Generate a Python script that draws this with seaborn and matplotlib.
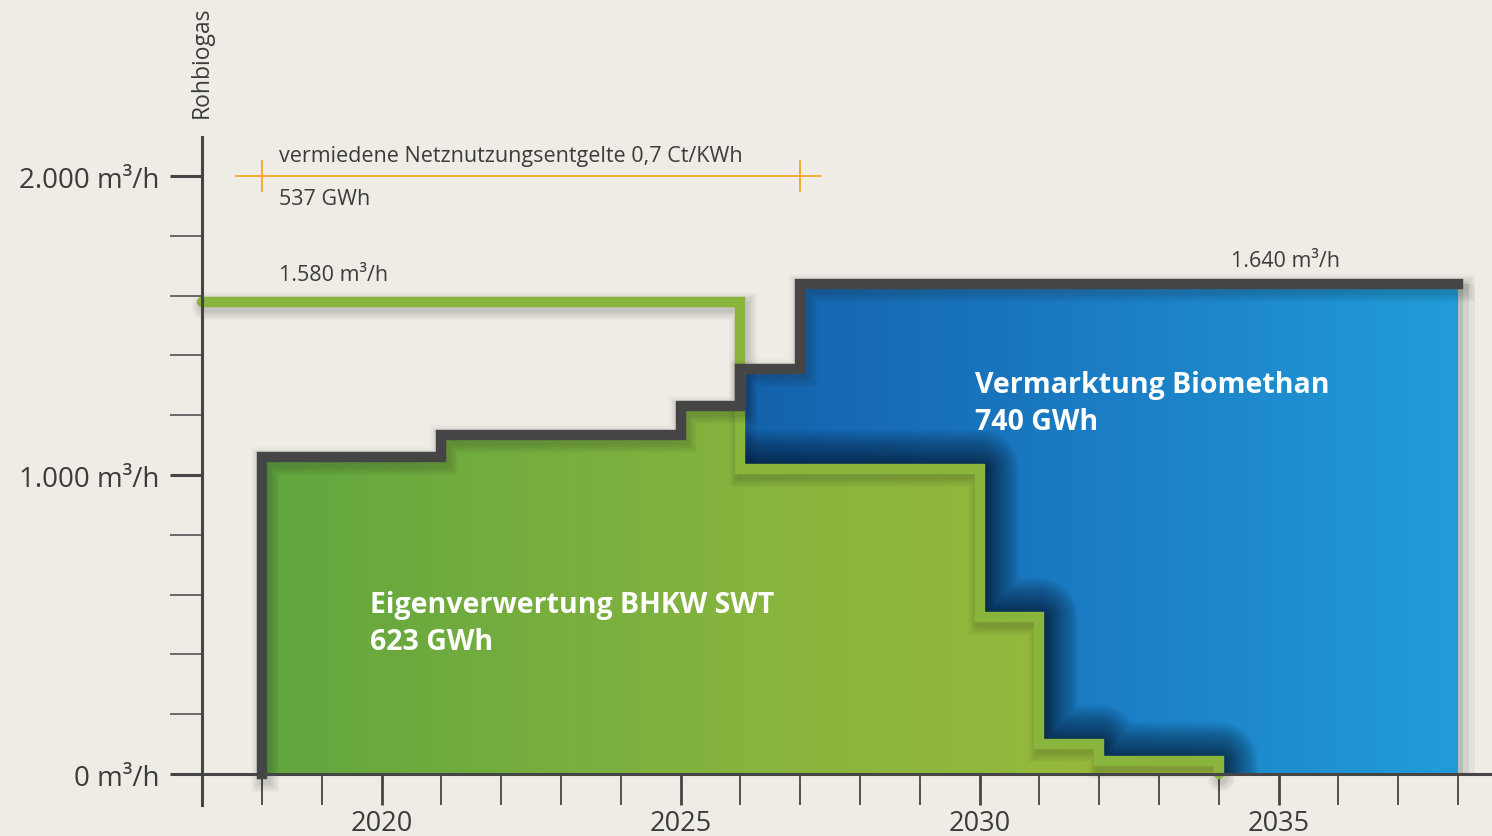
import numpy as np
import pandas as pd
import seaborn as sns
import matplotlib.pyplot as plt
import matplotlib.patheffects as pe
from matplotlib.colors import LinearSegmentedColormap

# data (m3/h Rohbiogas per year)
total_years = list(range(2018, 2039))
total_vals = [1060, 1060, 1060, 1135, 1135, 1135, 1135, 1230, 1355] + [1640] * 12

eigen_years = list(range(2018, 2035))
eigen_vals = [1060, 1060, 1060, 1135, 1135, 1135, 1135, 1230,
              1020, 1020, 1020, 1020, 525, 100, 43, 43, 0]

roh_years = list(range(2017, 2035))
roh_vals = [1580] * 9 + [1020, 1020, 1020, 1020, 525, 100, 43, 43, 0]

biomethan_years = list(range(2026, 2039))
biomethan_vals = total_vals[8:]

year_labels = [2020, 2025, 2030, 2035]
y_major = [0, 1000, 2000]
y_major_labels = ['0 m³/h', '1.000 m³/h', '2.000 m³/h']

bg = '#efece5'
gray = '#454545'
txt = '#3c3c3c'
green_line = '#8ab53d'
orange = '#f4a623'

sns.set_theme(style='white', rc={'axes.facecolor': bg, 'figure.facecolor': bg})
plt.rcParams['font.family'] = ['Open Sans', 'DejaVu Sans']

fig = plt.figure(figsize=(14.92, 8.37), dpi=100)
ax = fig.add_axes([0, 0, 1, 1])


def soft_shadow(color='k', off=(2, -3)):
    fx = [pe.SimpleLineShadow(offset=off, shadow_color=color, alpha=0.025, rho=1, linewidth=lw)
          for lw in np.linspace(20, 8, 8)]
    return fx + [pe.Normal()]


# blue area (Vermarktung Biomethan)
blue_poly = ax.fill_between(biomethan_years, 0, biomethan_vals, step='post', color='#1a78c2',
                            zorder=1, linewidth=0,
                            path_effects=[pe.SimplePatchShadow(offset=(4, 0), alpha=0.12),
                                          pe.SimplePatchShadow(offset=(8, 0), alpha=0.08),
                                          pe.SimplePatchShadow(offset=(12, 0), alpha=0.05),
                                          pe.Normal()])
blue_cmap = LinearSegmentedColormap.from_list('b', ['#1361ab', '#1b7dc4', '#229cd9'])
im = ax.imshow(np.linspace(0, 1, 256)[None, :], cmap=blue_cmap, aspect='auto',
               extent=(2026, 2038, 0, 1640), zorder=1.1, interpolation='bicubic')
im.set_clip_path(blue_poly.get_paths()[0], ax.transData)

# inner dark shadow on the blue along the green border
for lw in np.linspace(56, 10, 16):
    sh, = ax.step(roh_years[9:], roh_vals[9:], where='post', color='#06162c', lw=lw, alpha=0.06,
                  zorder=1.2, solid_joinstyle='round')
    sh.set_clip_path(blue_poly.get_paths()[0], ax.transData)

# green area (Eigenverwertung)
green_poly = ax.fill_between(eigen_years, 0, eigen_vals, step='post', color='#7fb13e',
                             zorder=2, linewidth=0)
green_cmap = LinearSegmentedColormap.from_list('g', ['#61a63f', '#86b43e', '#9cbb3b'])
im2 = ax.imshow(np.linspace(0, 1, 256)[None, :], cmap=green_cmap, aspect='auto',
                extent=(2018, 2034, 0, 1300), zorder=2.1, interpolation='bicubic')
im2.set_clip_path(green_poly.get_paths()[0], ax.transData)

# green Rohbiogas line
roh_df = pd.DataFrame({'year': roh_years, 'value': roh_vals})
sns.lineplot(data=roh_df, x='year', y='value', estimator=None, sort=False, ax=ax,
             drawstyle='steps-post', color=green_line, linewidth=7.5, zorder=3,
             solid_joinstyle='miter', path_effects=soft_shadow())

# dark total line
tot_df = pd.DataFrame({'year': [2018] + total_years, 'value': [0] + total_vals})
sns.lineplot(data=tot_df, x='year', y='value', estimator=None, sort=False, ax=ax,
             drawstyle='steps-post', color=gray, linewidth=7.5, zorder=4,
             solid_joinstyle='miter', solid_capstyle='projecting', path_effects=soft_shadow())

# orange marker line
ax.plot([2017.57, 2027.35], [2000, 2000], color=orange, lw=1.3, zorder=4)
ax.vlines([2018, 2027], 1947, 2053, color=orange, lw=1.3, zorder=4)

# texts
ax.text(2018.29, 2070, 'vermiedene Netznutzungsentgelte 0,7 Ct/KWh', fontsize=15.5,
        color=txt, va='center', ha='left')
ax.text(2018.29, 1926, '537 GWh', fontsize=15.5, color=txt, va='center', ha='left')
ax.text(2018.29, 1672, '1.580 m³/h', fontsize=15.5, color=txt, va='center', ha='left')
ax.text(2034.2, 1716, '1.640 m³/h', fontsize=15.5, color=txt, va='center', ha='left')
ax.text(2019.81, 505, 'Eigenverwertung BHKW SWT\n623 GWh', fontsize=20.5, fontweight='bold',
        color='white', va='center', ha='left', linespacing=1.35, zorder=6)
ax.text(2029.93, 1241, 'Vermarktung Biomethan\n740 GWh', fontsize=20.5, fontweight='bold',
        color='white', va='center', ha='left', linespacing=1.35, zorder=6)
ax.text(2017, 2197, 'Rohbiogas', rotation=90, fontsize=16.5, color=txt, ha='center', va='bottom')

# axes
ax.set_xlim(2013.62, 2038.57)
ax.set_ylim(-207, 2592)
ax.set_xlabel('')
ax.set_ylabel('')
for s in ['top', 'right']:
    ax.spines[s].set_visible(False)
ax.spines['left'].set_position(('data', 2017))
ax.spines['left'].set_bounds(-105, 2130)
ax.spines['bottom'].set_position(('data', 0))
ax.spines['bottom'].set_bounds(2017, 2038.57)
for s in ['left', 'bottom']:
    ax.spines[s].set_color(gray)
    ax.spines[s].set_linewidth(2.2)
    ax.spines[s].set_zorder(5)

ax.set_xticks(year_labels)
ax.set_xticklabels([str(y) for y in year_labels])
ax.set_xticks(range(2018, 2039), minor=True)
ax.set_yticks(y_major)
ax.set_yticklabels(y_major_labels)
ax.set_yticks([v for v in range(200, 2000, 200) if v != 1000], minor=True)
ax.tick_params(axis='x', which='both', direction='out', length=22, color=gray,
               labelsize=19.5, labelcolor=txt, pad=3, bottom=True)
ax.tick_params(axis='x', which='major', width=2)
ax.tick_params(axis='x', which='minor', width=1.3)
ax.tick_params(axis='y', which='both', direction='out', length=23, color=gray,
               labelsize=20, labelcolor=txt, pad=8, left=True)
ax.tick_params(axis='y', which='major', width=2.2)
ax.tick_params(axis='y', which='minor', width=1.1)

fig.savefig('out.png', dpi=100, facecolor=bg)
